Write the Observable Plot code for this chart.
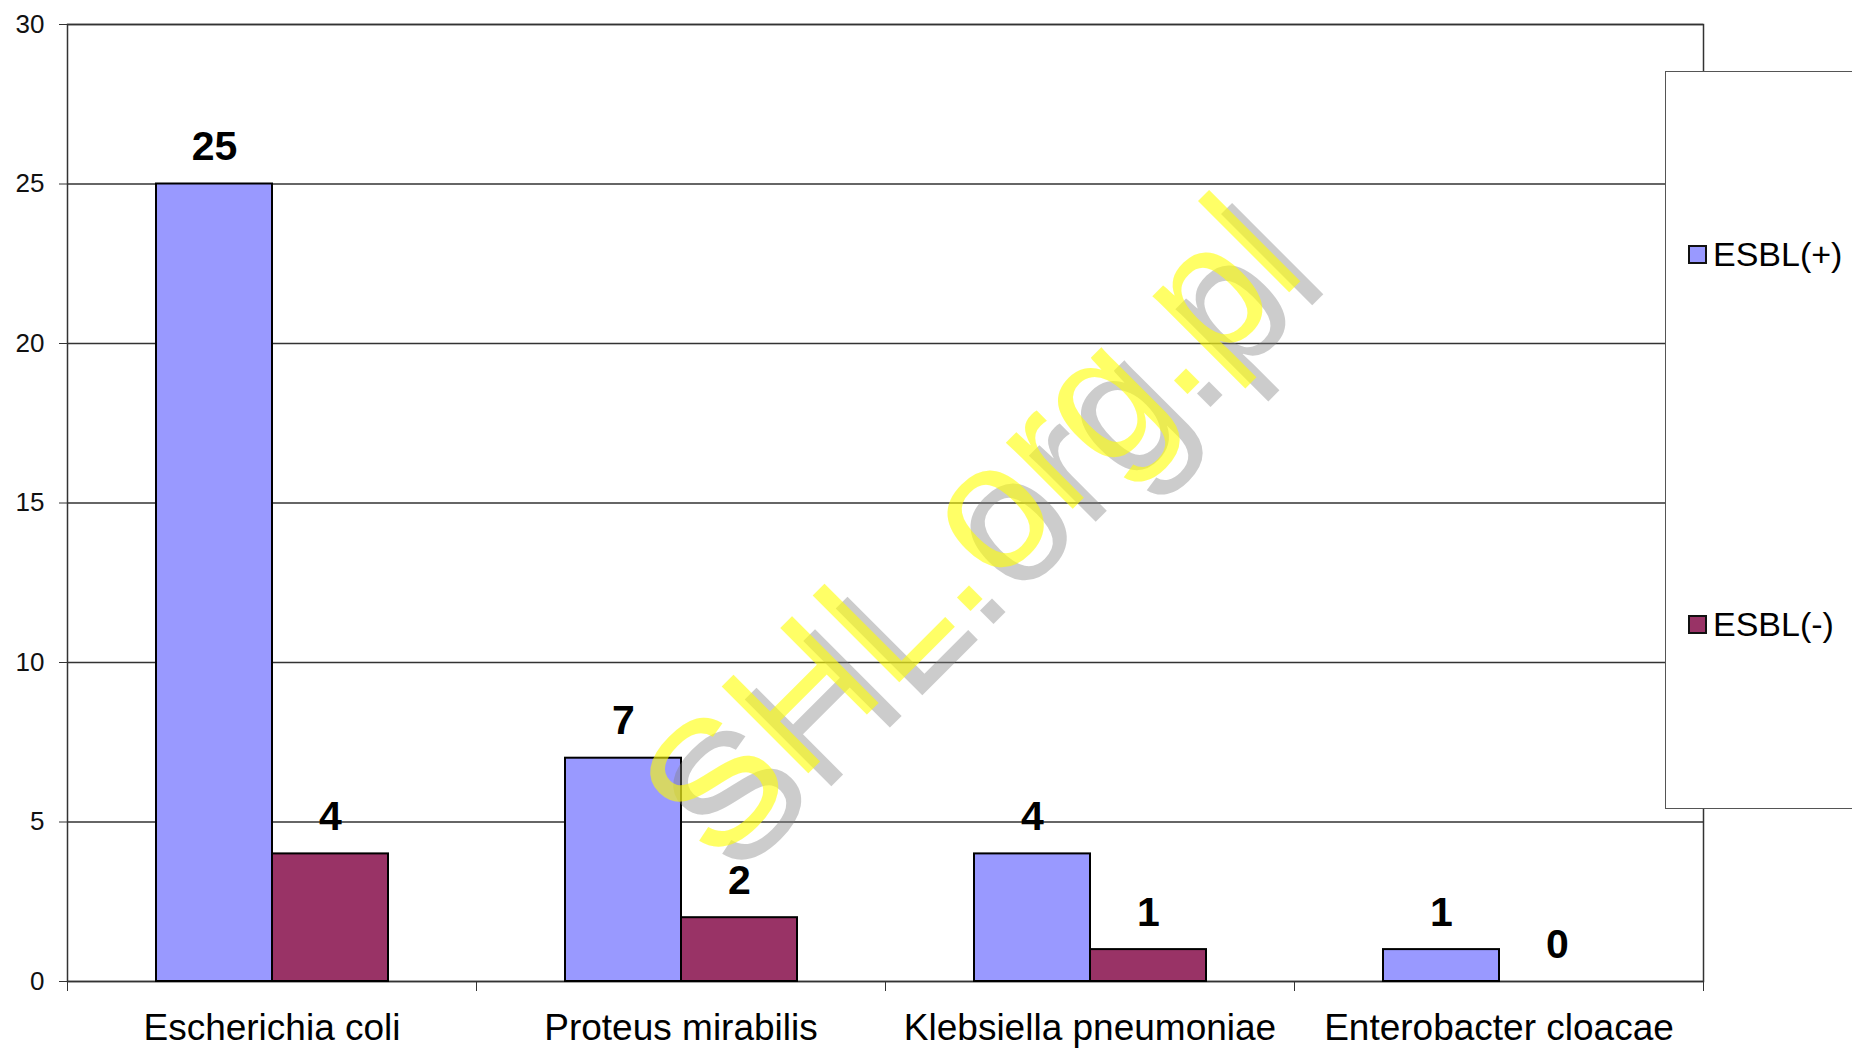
<!DOCTYPE html>
<html>
<head>
<meta charset="utf-8">
<script src="https://cdn.jsdelivr.net/npm/d3@7"></script>
<script src="https://cdn.jsdelivr.net/npm/@observablehq/plot@0.6"></script>
<style>
  html, body { margin: 0; padding: 0; background: #fff; overflow: hidden; }
  #wrap { position: relative; width: 1852px; height: 1051px; font-family: "Liberation Sans", Arial, sans-serif; }
  #legend { position: absolute; left: 1665px; top: 71px; width: 260px; height: 738px; background: #fff; border: 1.5px solid #555; box-sizing: border-box; }
  .item { position: absolute; left: 22px; display: flex; align-items: center; font-size: 34px; color: #000; }
  .sw { width: 15px; height: 15px; border: 2px solid #111; margin-right: 6px; }
</style>
</head>
<body>
<div id="wrap"></div>
<script>
const categories = ["Escherichia coli", "Proteus mirabilis", "Klebsiella pneumoniae", "Enterobacter cloacae"];
const series = ["ESBL(+)", "ESBL(-)"];
const esblPositive = [25, 7, 4, 1];
const esblNegative = [4, 2, 1, 0];
const yTicks = [0, 5, 10, 15, 20, 25, 30];
const colors = ["#9999FF", "#993366"];
const watermark = "SHL.org.pl";

const data = [];
categories.forEach((c, i) => {
  data.push({cat: c, series: series[0], value: esblPositive[i]});
  data.push({cat: c, series: series[1], value: esblNegative[i]});
});

const W = 1852, H = 1051, mL = 67, mR = 149, mT = 24, mB = 70;
const step = (W - mL - mR) / categories.length;

const chart = Plot.plot({
  width: W, height: H,
  marginLeft: mL, marginRight: mR, marginTop: mT, marginBottom: mB,
  style: {fontFamily: "Liberation Sans, Arial, sans-serif", background: "transparent"},
  fx: {domain: categories, padding: 0, label: null},
  x: {domain: series, paddingInner: 0, paddingOuter: 0.75, axis: null},
  y: {domain: [0, 30], label: null},
  color: {domain: series, range: colors},
  marks: [
    Plot.ruleY(yTicks, {stroke: "#333", strokeWidth: 1.5}),
    Plot.frame({facet: "super", stroke: "#333", strokeWidth: 1.5}),
    Plot.barY(data, {fx: "cat", x: "series", y: "value", fill: "series", stroke: "#000", strokeWidth: 2}),
    Plot.text(data, {fx: "cat", x: "series", y: "value", text: d => String(d.value), dy: -24, lineAnchor: "bottom", fontSize: 41, fontWeight: "bold", fill: "#000"}),
    Plot.axisY({ticks: yTicks, tickSize: 8, tickPadding: 15, fontSize: 26, label: null, stroke: "#333", fill: "#111"}),
    Plot.axisFx({anchor: "bottom", tickSize: 0, tickPadding: 32, fontSize: 37, label: null, fill: "#000"}),
    Plot.axisFx({anchor: "bottom", tickSize: 10, tickFormat: () => "", label: null, dx: -step / 2, stroke: "#333"}),
    Plot.axisFx({anchor: "bottom", tickSize: 10, tickFormat: () => "", label: null, dx: step / 2, stroke: "#333"}),
    Plot.text([watermark], {facet: "super", frameAnchor: "middle", text: d => d, rotate: -45, lineAnchor: "bottom", fontSize: 178, fill: "#808080", fillOpacity: 0.4, dx: 149, dy: 80}),
    Plot.text([watermark], {facet: "super", frameAnchor: "middle", text: d => d, rotate: -45, lineAnchor: "bottom", fontSize: 178, fill: "#FFFF00", fillOpacity: 0.6, dx: 126, dy: 67})
  ]
});

const wrap = document.getElementById("wrap");
wrap.appendChild(chart);

const legend = document.createElement("div");
legend.id = "legend";
const itemTops = [163, 533];
series.forEach((s, i) => {
  const it = document.createElement("div");
  it.className = "item";
  it.style.top = itemTops[i] + "px";
  const sw = document.createElement("span");
  sw.className = "sw";
  sw.style.background = colors[i];
  const t = document.createElement("span");
  t.textContent = s;
  it.appendChild(sw);
  it.appendChild(t);
  legend.appendChild(it);
});
wrap.appendChild(legend);
</script>
</body>
</html>
